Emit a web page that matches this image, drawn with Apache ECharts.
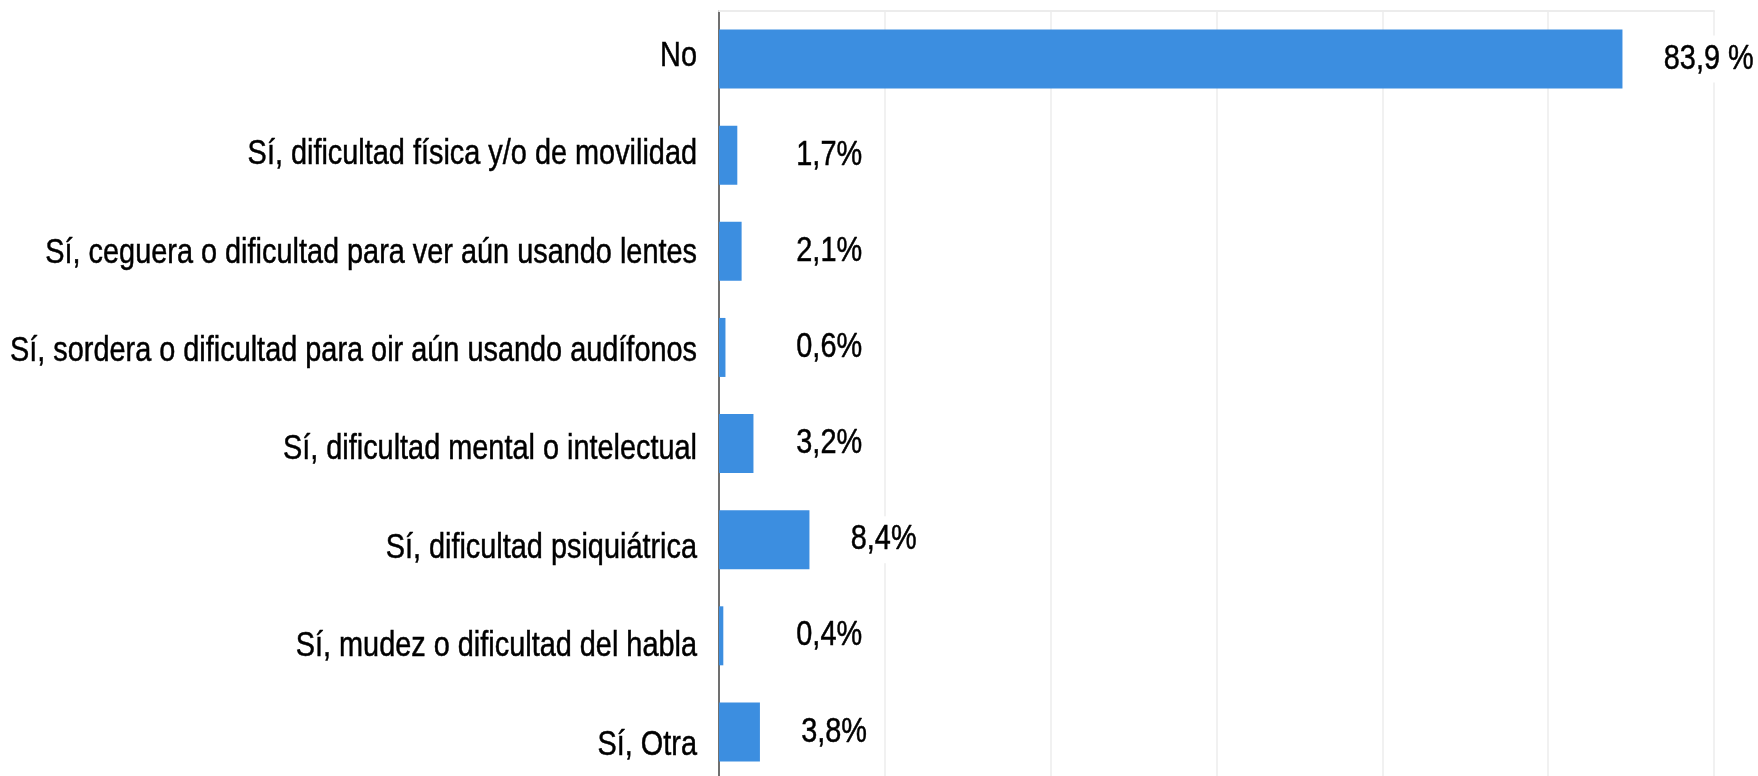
<!DOCTYPE html>
<html>
<head>
<meta charset="utf-8">
<title>Dificultad</title>
<script src="https://cdn.jsdelivr.net/npm/echarts@6/dist/echarts.min.js"></script>
<style>
  html, body { margin: 0; padding: 0; background: #fff; }
  #chart { width: 1758px; height: 776px; }
</style>
</head>
<body>
<div id="chart"></div>
<script>
var categories = [
  'No',
  'Sí, dificultad física y/o de movilidad',
  'Sí, ceguera o dificultad para ver aún usando lentes',
  'Sí, sordera o dificultad para oir aún usando audífonos',
  'Sí, dificultad mental o intelectual',
  'Sí, dificultad psiquiátrica',
  'Sí, mudez o dificultad del habla',
  'Sí, Otra'
];
var values = [83.9, 1.7, 2.1, 0.6, 3.2, 8.4, 0.4, 3.8];
var valueLabels = ['83,9 %', '1,7%', '2,1%', '0,6%', '3,2%', '8,4%', '0,4%', '3,8%'];

// the original uses a narrow face, so the text is squeezed horizontally
var textFont = '35px "Liberation Sans", Arial, sans-serif';
var squeeze = 0.825;

var chart = echarts.init(document.getElementById('chart'));

var option = {
  animation: false,
  grid: {
    left: 719,
    right: 44,
    top: 11,
    height: 769,
    containLabel: false,
    outerBoundsMode: 'none'
  },
  xAxis: {
    type: 'value',
    position: 'top',
    min: 0,
    max: 92.4,
    interval: 15.4,
    axisLabel: { show: false },
    axisTick: { show: false },
    axisLine: { show: true, lineStyle: { color: '#ececec', width: 2 } },
    splitLine: { show: true, lineStyle: { color: '#ececec', width: 1.5 } }
  },
  yAxis: {
    type: 'category',
    inverse: true,
    data: categories,
    axisTick: { show: false },
    axisLine: { show: true, lineStyle: { color: '#707070', width: 2 } },
    axisLabel: { show: false }
  },
  series: [{
    type: 'bar',
    data: values,
    barWidth: 59,
    itemStyle: { color: '#3c8ee0' }
  }]
};

chart.setOption(option);

// texts placed with the chart's own scales
function drawTexts() {
  var items = [];
  for (var i = 0; i < categories.length; i++) {
    var start = chart.convertToPixel({ seriesIndex: 0 }, [0, categories[i]]);
    var end = chart.convertToPixel({ seriesIndex: 0 }, [values[i], categories[i]]);
    // category texts slide down a little row after row in the original
    items.push({
      type: 'text',
      x: start[0] - 22,
      y: start[1] - 3 + i * 2.3,
      scaleX: squeeze,
      z: 100,
      style: {
        text: categories[i],
        font: textFont,
        fill: '#000',
        stroke: '#000',
        lineWidth: 0.5,
        align: 'right',
        verticalAlign: 'middle'
      }
    });
    items.push({
      type: 'text',
      x: Math.max(end[0] + 38, 793),
      y: end[1],
      scaleX: squeeze,
      z: 100,
      style: {
        text: valueLabels[i],
        font: textFont,
        fill: '#000',
        stroke: '#000',
        lineWidth: 0.5,
        align: 'left',
        verticalAlign: 'middle',
        backgroundColor: '#fff',
        padding: [6, 4]
      }
    });
  }
  chart.setOption({ graphic: { elements: items } }, { replaceMerge: ['graphic'] });
}
drawTexts();

window.addEventListener('resize', function () {
  chart.resize();
  drawTexts();
});
</script>
</body>
</html>
